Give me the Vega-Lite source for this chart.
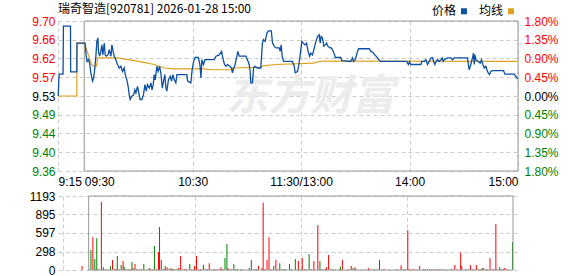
{
  "$schema": "https://vega.github.io/schema/vega-lite/v6.json",
  "background": "white",
  "padding": {"left": 29, "top": 3, "right": 0, "bottom": 0},
  "bounds": "flush",
  "spacing": 25,
  "resolve": {"scale": {"color": "independent"}, "legend": {"color": "independent"}},
  "config": {
    "view": {"stroke": null},
    "axis": {"labelFont": "Liberation Sans", "labelFontSize": 12, "domain": false, "ticks": false, "gridColor": "#cccccc", "gridDash": [4, 3], "gridWidth": 1, "title": null, "labelColor": "#000000", "labelOverlap": false}
  },
  "datasets": {
    "price": [
      {"t": -14.4, "p": 9.53}, {"t": -13.9, "p": 9.58}, {"t": -11.7, "p": 9.58}, {"t": -11.5, "p": 9.69}, {"t": -7.6, "p": 9.69}, {"t": -7.5, "p": 9.585}, {"t": -4.1, "p": 9.585}, {"t": -4.0, "p": 9.651}, {"t": 0.5, "p": 9.651},
      {"t": 1.0, "p": 9.624}, {"t": 1.6, "p": 9.609}, {"t": 2.4, "p": 9.613}, {"t": 3.0, "p": 9.605}, {"t": 3.7, "p": 9.583}, {"t": 4.6, "p": 9.564}, {"t": 5.2, "p": 9.571}, {"t": 5.9, "p": 9.594}, {"t": 6.5, "p": 9.624}, {"t": 7.0, "p": 9.655},
      {"t": 7.6, "p": 9.663}, {"t": 7.9, "p": 9.632}, {"t": 8.5, "p": 9.621}, {"t": 9.2, "p": 9.632}, {"t": 9.8, "p": 9.647}, {"t": 10.3, "p": 9.624}, {"t": 11.1, "p": 9.651}, {"t": 11.6, "p": 9.624}, {"t": 12.3, "p": 9.621}, {"t": 13.2, "p": 9.624},
      {"t": 13.8, "p": 9.636}, {"t": 14.8, "p": 9.621}, {"t": 15.3, "p": 9.647}, {"t": 16.0, "p": 9.632}, {"t": 16.6, "p": 9.621}, {"t": 17.5, "p": 9.613}, {"t": 18.4, "p": 9.602}, {"t": 19.4, "p": 9.594}, {"t": 20.3, "p": 9.598}, {"t": 21.2, "p": 9.586},
      {"t": 22.1, "p": 9.594}, {"t": 22.7, "p": 9.579}, {"t": 23.6, "p": 9.567}, {"t": 24.3, "p": 9.552}, {"t": 24.9, "p": 9.533}, {"t": 25.4, "p": 9.522}, {"t": 26.2, "p": 9.529}, {"t": 27.3, "p": 9.532}, {"t": 28.0, "p": 9.544}, {"t": 28.6, "p": 9.537},
      {"t": 29.5, "p": 9.552}, {"t": 30.4, "p": 9.533}, {"t": 30.9, "p": 9.522}, {"t": 31.9, "p": 9.522}, {"t": 32.8, "p": 9.533}, {"t": 33.6, "p": 9.556}, {"t": 34.3, "p": 9.541}, {"t": 35.0, "p": 9.556}, {"t": 36.0, "p": 9.548}, {"t": 36.9, "p": 9.56},
      {"t": 37.5, "p": 9.544}, {"t": 38.2, "p": 9.556}, {"t": 38.7, "p": 9.579}, {"t": 39.3, "p": 9.567}, {"t": 40.2, "p": 9.598}, {"t": 40.9, "p": 9.586}, {"t": 41.7, "p": 9.598}, {"t": 42.4, "p": 9.583}, {"t": 43.2, "p": 9.548}, {"t": 43.9, "p": 9.564},
      {"t": 44.6, "p": 9.579}, {"t": 45.2, "p": 9.548}, {"t": 45.7, "p": 9.541}, {"t": 46.6, "p": 9.567}, {"t": 47.6, "p": 9.575}, {"t": 48.3, "p": 9.564}, {"t": 49.1, "p": 9.579}, {"t": 49.8, "p": 9.567}, {"t": 50.7, "p": 9.56}, {"t": 51.3, "p": 9.579},
      {"t": 56.8, "p": 9.579}, {"t": 57.2, "p": 9.564}, {"t": 59.0, "p": 9.56}, {"t": 59.6, "p": 9.586}, {"t": 60.5, "p": 9.609}, {"t": 61.4, "p": 9.618}, {"t": 63.1, "p": 9.618}, {"t": 64.0, "p": 9.602}, {"t": 64.6, "p": 9.571}, {"t": 65.1, "p": 9.613},
      {"t": 66.0, "p": 9.602}, {"t": 66.8, "p": 9.613}, {"t": 71.9, "p": 9.613}, {"t": 72.9, "p": 9.621}, {"t": 74.7, "p": 9.624}, {"t": 76.0, "p": 9.632}, {"t": 76.9, "p": 9.613}, {"t": 77.6, "p": 9.602}, {"t": 78.4, "p": 9.598}, {"t": 79.3, "p": 9.602},
      {"t": 80.6, "p": 9.598}, {"t": 81.5, "p": 9.594}, {"t": 82.0, "p": 9.583}, {"t": 82.8, "p": 9.594}, {"t": 83.5, "p": 9.602}, {"t": 84.3, "p": 9.617}, {"t": 85.0, "p": 9.632}, {"t": 85.8, "p": 9.621}, {"t": 89.5, "p": 9.621}, {"t": 90.3, "p": 9.613},
      {"t": 91.3, "p": 9.602}, {"t": 91.8, "p": 9.586}, {"t": 92.2, "p": 9.56}, {"t": 93.1, "p": 9.56}, {"t": 93.7, "p": 9.594}, {"t": 94.4, "p": 9.598}, {"t": 95.9, "p": 9.594}, {"t": 97.7, "p": 9.594}, {"t": 98.6, "p": 9.651}, {"t": 99.2, "p": 9.659},
      {"t": 100.1, "p": 9.655}, {"t": 101.1, "p": 9.674}, {"t": 102.0, "p": 9.679}, {"t": 103.5, "p": 9.679}, {"t": 104.2, "p": 9.651}, {"t": 105.1, "p": 9.644}, {"t": 106.1, "p": 9.64}, {"t": 107.9, "p": 9.64}, {"t": 108.4, "p": 9.632}, {"t": 109.0, "p": 9.647},
      {"t": 109.5, "p": 9.621}, {"t": 110.3, "p": 9.609}, {"t": 115.2, "p": 9.609}, {"t": 116.2, "p": 9.598}, {"t": 116.7, "p": 9.583}, {"t": 118.0, "p": 9.586}, {"t": 118.8, "p": 9.602}, {"t": 119.5, "p": 9.624}, {"t": 120.4, "p": 9.655}, {"t": 121.2, "p": 9.651},
      {"t": 122.1, "p": 9.647}, {"t": 123.0, "p": 9.651}, {"t": 123.9, "p": 9.632}, {"t": 124.7, "p": 9.621}, {"t": 125.4, "p": 9.628}, {"t": 126.3, "p": 9.624}, {"t": 127.3, "p": 9.64}, {"t": 128.2, "p": 9.655}, {"t": 129.1, "p": 9.666}, {"t": 130.0, "p": 9.67},
      {"t": 130.6, "p": 9.651}, {"t": 131.1, "p": 9.666}, {"t": 131.8, "p": 9.663}, {"t": 132.6, "p": 9.644}, {"t": 133.3, "p": 9.647}, {"t": 134.1, "p": 9.651}, {"t": 134.8, "p": 9.644}, {"t": 135.9, "p": 9.64}, {"t": 136.8, "p": 9.64}, {"t": 137.8, "p": 9.632},
      {"t": 138.5, "p": 9.624}, {"t": 138.9, "p": 9.618}, {"t": 142.0, "p": 9.618}, {"t": 142.6, "p": 9.611}, {"t": 147.5, "p": 9.609}, {"t": 147.9, "p": 9.613}, {"t": 148.4, "p": 9.617}, {"t": 149.0, "p": 9.609}, {"t": 149.9, "p": 9.613}, {"t": 150.5, "p": 9.621},
      {"t": 151.2, "p": 9.632}, {"t": 151.8, "p": 9.638}, {"t": 157.7, "p": 9.638}, {"t": 158.6, "p": 9.632}, {"t": 159.7, "p": 9.63}, {"t": 160.8, "p": 9.624}, {"t": 161.5, "p": 9.621}, {"t": 162.3, "p": 9.617}, {"t": 163.0, "p": 9.613}, {"t": 164.1, "p": 9.609},
      {"t": 178.5, "p": 9.609}, {"t": 178.9, "p": 9.605}, {"t": 179.4, "p": 9.602}, {"t": 180.0, "p": 9.609}, {"t": 180.7, "p": 9.602}, {"t": 186.3, "p": 9.602}, {"t": 186.8, "p": 9.609}, {"t": 188.1, "p": 9.609}, {"t": 189.0, "p": 9.613}, {"t": 189.9, "p": 9.602},
      {"t": 190.9, "p": 9.609}, {"t": 191.8, "p": 9.617}, {"t": 192.7, "p": 9.618}, {"t": 193.3, "p": 9.609}, {"t": 194.0, "p": 9.602}, {"t": 194.7, "p": 9.609}, {"t": 195.5, "p": 9.613}, {"t": 196.4, "p": 9.609}, {"t": 197.3, "p": 9.613}, {"t": 198.1, "p": 9.617},
      {"t": 198.6, "p": 9.609}, {"t": 199.2, "p": 9.613}, {"t": 201.0, "p": 9.617}, {"t": 202.9, "p": 9.617}, {"t": 203.8, "p": 9.613}, {"t": 204.7, "p": 9.617}, {"t": 212.1, "p": 9.617}, {"t": 212.5, "p": 9.602}, {"t": 213.0, "p": 9.59}, {"t": 213.9, "p": 9.602},
      {"t": 214.8, "p": 9.617}, {"t": 215.4, "p": 9.628}, {"t": 215.8, "p": 9.602}, {"t": 216.2, "p": 9.624}, {"t": 216.7, "p": 9.613}, {"t": 218.0, "p": 9.609}, {"t": 219.1, "p": 9.605}, {"t": 219.8, "p": 9.613}, {"t": 220.6, "p": 9.602}, {"t": 221.3, "p": 9.594},
      {"t": 222.2, "p": 9.598}, {"t": 222.8, "p": 9.59}, {"t": 223.5, "p": 9.583}, {"t": 224.2, "p": 9.579}, {"t": 225.0, "p": 9.586}, {"t": 225.9, "p": 9.588}, {"t": 232.0, "p": 9.588}, {"t": 232.8, "p": 9.58}, {"t": 237.9, "p": 9.58}, {"t": 238.8, "p": 9.575},
      {"t": 239.7, "p": 9.569}
    ],
    "avg": [
      {"t": -14.4, "a": 9.53}, {"t": -4.1, "a": 9.53}, {"t": -4.0, "a": 9.651}, {"t": 0.3, "a": 9.651}, {"t": 0.9, "a": 9.641}, {"t": 4.0, "a": 9.602}, {"t": 5.2, "a": 9.598}, {"t": 6.8, "a": 9.598}, {"t": 7.4, "a": 9.617},
      {"t": 18.4, "a": 9.617}, {"t": 22.0, "a": 9.615}, {"t": 27.7, "a": 9.611}, {"t": 33.0, "a": 9.607}, {"t": 38.7, "a": 9.602}, {"t": 44.3, "a": 9.594}, {"t": 50.0, "a": 9.592}, {"t": 66.4, "a": 9.592}, {"t": 70.0, "a": 9.59},
      {"t": 82.0, "a": 9.59}, {"t": 82.1, "a": 9.594}, {"t": 97.7, "a": 9.596}, {"t": 99.0, "a": 9.599}, {"t": 106.0, "a": 9.602}, {"t": 127.0, "a": 9.605}, {"t": 129.0, "a": 9.608}, {"t": 133.0, "a": 9.61}, {"t": 239.7, "a": 9.609}
    ],
    "vol": [
      {"t": -3.7, "v": 64, "d": "up"}, {"t": 1.3, "v": 322, "d": "dn"}, {"t": 2.4, "v": 527, "d": "up"}, {"t": 3.5, "v": 177, "d": "dn"}, {"t": 4.6, "v": 511, "d": "dn"}, {"t": 5.2, "v": 11, "d": "up"}, {"t": 5.9, "v": 11, "d": "dn"},
      {"t": 7.2, "v": 1096, "d": "up"}, {"t": 8.3, "v": 43, "d": "dn"}, {"t": 9.4, "v": 11, "d": "up"}, {"t": 10.5, "v": 11, "d": "up"}, {"t": 12.4, "v": 64, "d": "dn"}, {"t": 13.5, "v": 161, "d": "up"}, {"t": 14.8, "v": 11, "d": "up"},
      {"t": 15.3, "v": 11, "d": "up"}, {"t": 16.2, "v": 226, "d": "dn"}, {"t": 17.3, "v": 11, "d": "up"}, {"t": 18.4, "v": 81, "d": "dn"}, {"t": 19.5, "v": 150, "d": "up"}, {"t": 20.1, "v": 54, "d": "dn"}, {"t": 21.2, "v": 11, "d": "up"},
      {"t": 22.3, "v": 11, "d": "dn"}, {"t": 23.4, "v": 11, "d": "up"}, {"t": 24.5, "v": 129, "d": "dn"}, {"t": 25.1, "v": 32, "d": "dn"}, {"t": 26.2, "v": 97, "d": "up"}, {"t": 27.3, "v": 11, "d": "up"}, {"t": 29.0, "v": 11, "d": "up"},
      {"t": 29.9, "v": 11, "d": "up"}, {"t": 31.2, "v": 97, "d": "dn"}, {"t": 33.2, "v": 11, "d": "up"}, {"t": 34.3, "v": 32, "d": "up"}, {"t": 34.9, "v": 11, "d": "up"}, {"t": 36.0, "v": 11, "d": "up"}, {"t": 37.2, "v": 387, "d": "dn"},
      {"t": 38.4, "v": 11, "d": "up"}, {"t": 39.5, "v": 290, "d": "up"}, {"t": 40.1, "v": 693, "d": "dn"}, {"t": 41.1, "v": 161, "d": "up"}, {"t": 42.2, "v": 21, "d": "dn"}, {"t": 43.3, "v": 64, "d": "dn"}, {"t": 44.4, "v": 43, "d": "up"},
      {"t": 45.6, "v": 21, "d": "up"}, {"t": 46.7, "v": 32, "d": "up"}, {"t": 47.6, "v": 11, "d": "up"}, {"t": 48.7, "v": 11, "d": "dn"}, {"t": 49.8, "v": 11, "d": "dn"}, {"t": 50.9, "v": 32, "d": "up"}, {"t": 52.0, "v": 226, "d": "up"},
      {"t": 53.1, "v": 11, "d": "up"}, {"t": 54.2, "v": 11, "d": "up"}, {"t": 55.3, "v": 11, "d": "up"}, {"t": 57.2, "v": 97, "d": "dn"}, {"t": 58.3, "v": 11, "d": "up"}, {"t": 59.9, "v": 64, "d": "up"}, {"t": 61.0, "v": 226, "d": "up"},
      {"t": 62.1, "v": 11, "d": "up"}, {"t": 63.3, "v": 11, "d": "up"}, {"t": 64.9, "v": 81, "d": "dn"}, {"t": 66.0, "v": 11, "d": "up"}, {"t": 67.1, "v": 11, "d": "dn"}, {"t": 68.2, "v": 107, "d": "up"}, {"t": 69.3, "v": 11, "d": "up"},
      {"t": 71.0, "v": 11, "d": "up"}, {"t": 72.1, "v": 11, "d": "up"}, {"t": 73.2, "v": 11, "d": "up"}, {"t": 74.3, "v": 11, "d": "up"}, {"t": 74.9, "v": 43, "d": "up"}, {"t": 76.0, "v": 11, "d": "up"}, {"t": 77.1, "v": 193, "d": "dn"},
      {"t": 78.2, "v": 419, "d": "dn"}, {"t": 78.8, "v": 32, "d": "up"}, {"t": 79.9, "v": 11, "d": "up"}, {"t": 81.0, "v": 11, "d": "up"}, {"t": 82.1, "v": 97, "d": "dn"}, {"t": 83.2, "v": 11, "d": "dn"}, {"t": 84.3, "v": 11, "d": "up"},
      {"t": 85.9, "v": 11, "d": "dn"}, {"t": 90.9, "v": 32, "d": "dn"}, {"t": 92.0, "v": 161, "d": "dn"}, {"t": 93.1, "v": 11, "d": "up"}, {"t": 94.2, "v": 11, "d": "up"}, {"t": 95.0, "v": 11, "d": "dn"}, {"t": 96.1, "v": 64, "d": "up"},
      {"t": 98.1, "v": 32, "d": "up"}, {"t": 98.7, "v": 1085, "d": "up"}, {"t": 99.8, "v": 11, "d": "up"}, {"t": 100.9, "v": 161, "d": "up"}, {"t": 102.0, "v": 527, "d": "up"}, {"t": 103.6, "v": 11, "d": "up"}, {"t": 104.7, "v": 64, "d": "dn"},
      {"t": 105.9, "v": 161, "d": "up"}, {"t": 107.0, "v": 11, "d": "up"}, {"t": 108.1, "v": 107, "d": "dn"}, {"t": 109.2, "v": 11, "d": "up"}, {"t": 110.3, "v": 11, "d": "dn"}, {"t": 111.4, "v": 11, "d": "dn"}, {"t": 113.6, "v": 97, "d": "up"},
      {"t": 114.7, "v": 11, "d": "up"}, {"t": 116.9, "v": 177, "d": "dn"}, {"t": 118.6, "v": 145, "d": "up"}, {"t": 119.7, "v": 11, "d": "dn"}, {"t": 120.8, "v": 193, "d": "up"}, {"t": 121.9, "v": 11, "d": "up"}, {"t": 123.0, "v": 11, "d": "dn"},
      {"t": 124.7, "v": 258, "d": "dn"}, {"t": 125.8, "v": 11, "d": "up"}, {"t": 127.4, "v": 145, "d": "up"}, {"t": 128.0, "v": 11, "d": "up"}, {"t": 129.6, "v": 725, "d": "up"}, {"t": 130.8, "v": 145, "d": "dn"}, {"t": 131.9, "v": 11, "d": "up"},
      {"t": 133.0, "v": 11, "d": "dn"}, {"t": 134.1, "v": 21, "d": "dn"}, {"t": 134.6, "v": 43, "d": "up"}, {"t": 135.7, "v": 242, "d": "up"}, {"t": 136.8, "v": 11, "d": "up"}, {"t": 137.9, "v": 11, "d": "dn"}, {"t": 139.6, "v": 11, "d": "up"},
      {"t": 141.8, "v": 11, "d": "up"}, {"t": 142.4, "v": 54, "d": "dn"}, {"t": 143.5, "v": 161, "d": "up"}, {"t": 147.3, "v": 11, "d": "up"}, {"t": 148.5, "v": 64, "d": "up"}, {"t": 149.6, "v": 32, "d": "dn"}, {"t": 150.7, "v": 43, "d": "up"},
      {"t": 151.8, "v": 11, "d": "up"}, {"t": 156.8, "v": 11, "d": "up"}, {"t": 158.4, "v": 32, "d": "up"}, {"t": 160.1, "v": 11, "d": "dn"}, {"t": 161.7, "v": 11, "d": "dn"}, {"t": 163.4, "v": 11, "d": "dn"}, {"t": 164.5, "v": 161, "d": "dn"},
      {"t": 166.7, "v": 11, "d": "up"}, {"t": 167.3, "v": 11, "d": "up"}, {"t": 174.5, "v": 11, "d": "up"}, {"t": 176.7, "v": 75, "d": "up"}, {"t": 178.3, "v": 11, "d": "up"}, {"t": 179.4, "v": 11, "d": "up"}, {"t": 180.5, "v": 645, "d": "up"},
      {"t": 181.1, "v": 11, "d": "up"}, {"t": 183.3, "v": 11, "d": "up"}, {"t": 184.4, "v": 11, "d": "up"}, {"t": 187.2, "v": 64, "d": "up"}, {"t": 189.4, "v": 11, "d": "up"}, {"t": 190.5, "v": 11, "d": "dn"}, {"t": 191.6, "v": 11, "d": "dn"},
      {"t": 192.7, "v": 11, "d": "dn"}, {"t": 193.8, "v": 11, "d": "dn"}, {"t": 194.9, "v": 11, "d": "up"}, {"t": 196.0, "v": 11, "d": "up"}, {"t": 197.1, "v": 11, "d": "up"}, {"t": 198.2, "v": 11, "d": "up"}, {"t": 199.4, "v": 11, "d": "dn"},
      {"t": 201.0, "v": 11, "d": "up"}, {"t": 204.3, "v": 11, "d": "dn"}, {"t": 205.4, "v": 11, "d": "up"}, {"t": 207.1, "v": 81, "d": "up"}, {"t": 208.2, "v": 11, "d": "up"}, {"t": 210.4, "v": 279, "d": "up"}, {"t": 211.0, "v": 64, "d": "up"},
      {"t": 213.2, "v": 11, "d": "dn"}, {"t": 215.4, "v": 11, "d": "up"}, {"t": 215.9, "v": 81, "d": "up"}, {"t": 217.0, "v": 11, "d": "up"}, {"t": 219.3, "v": 81, "d": "up"}, {"t": 220.4, "v": 11, "d": "up"}, {"t": 221.5, "v": 11, "d": "dn"},
      {"t": 222.6, "v": 32, "d": "dn"}, {"t": 223.1, "v": 32, "d": "up"}, {"t": 224.2, "v": 11, "d": "dn"}, {"t": 225.4, "v": 11, "d": "up"}, {"t": 227.0, "v": 193, "d": "up"}, {"t": 228.1, "v": 11, "d": "up"}, {"t": 229.2, "v": 11, "d": "up"},
      {"t": 230.3, "v": 741, "d": "up"}, {"t": 231.4, "v": 11, "d": "up"}, {"t": 232.5, "v": 43, "d": "dn"}, {"t": 233.6, "v": 11, "d": "up"}, {"t": 234.7, "v": 21, "d": "up"}, {"t": 235.3, "v": 32, "d": "up"}, {"t": 236.4, "v": 11, "d": "up"},
      {"t": 239.7, "v": 451, "d": "dn"}
    ]
  },
  "vconcat": [
    {
      "width": 460,
      "height": 150,
      "title": {"text": "瑞奇智造[920781] 2026-01-28 15:00", "anchor": "start", "frame": "group", "font": "Noto Sans CJK SC", "fontSize": 12, "fontWeight": "normal", "color": "#000000", "offset": -11},
      "resolve": {"scale": {"y": "independent"}, "axis": {"y": "independent"}},
      "layer": [
        {
          "data": {"values": [{"label": "东方财富"}]},
          "mark": {"type": "text", "font": "Noto Sans CJK SC", "fontSize": 42, "fontWeight": "bold", "fontStyle": "italic", "color": "#ececec"},
          "encoding": {
            "x": {"datum": 125, "type": "quantitative", "scale": {"domain": [-14.5, 240], "nice": false, "zero": false}},
            "y": {"datum": 9.527, "type": "quantitative", "scale": {"domain": [9.3585, 9.7015], "nice": false, "zero": false}, "axis": null},
            "text": {"field": "label"}
          }
        },
        {
          "data": {"values": [{}]},
          "mark": {"type": "rect", "filled": false, "color": "#999999", "strokeWidth": 1},
          "encoding": {
            "x": {"datum": 0, "type": "quantitative", "scale": {"domain": [-14.5, 240], "nice": false, "zero": false}},
            "x2": {"datum": 240},
            "y": {"datum": 9.7015, "type": "quantitative", "scale": {"domain": [9.3585, 9.7015], "nice": false, "zero": false}, "axis": null},
            "y2": {"datum": 9.3585}
          }
        },
        {
          "data": {"name": "avg"},
          "mark": {"type": "line", "strokeWidth": 1.2},
          "encoding": {
            "x": {"field": "t", "type": "quantitative", "scale": {"domain": [-14.5, 240], "nice": false, "zero": false}},
            "y": {"field": "a", "type": "quantitative", "scale": {"domain": [9.3585, 9.7015], "nice": false, "zero": false},
              "axis": {"orient": "right", "values": [9.3585, 9.40138, 9.44425, 9.48713, 9.53, 9.57288, 9.61575, 9.65863, 9.7015], "grid": false, "labelPadding": 6,
                "labelExpr": "format(abs(datum.value - 9.53) / 9.53 * 100, '.2f') + '%'",
                "labelColor": {"expr": "datum.value > 9.535 ? '#ff0000' : (datum.value < 9.525 ? '#008000' : '#000000')"}}},
            "color": {"datum": "均线", "type": "nominal", "scale": {"domain": ["价格", "均线"], "range": ["#0d4fa3", "#dea01e"]},
              "legend": {"orient": "none", "legendX": 400, "legendY": -16, "direction": "horizontal", "title": null, "symbolType": "square", "symbolSize": 9, "symbolStrokeWidth": 3, "labelFont": "Noto Sans CJK SC", "labelFontSize": 12, "labelColor": "#000000", "labelAlign": "right", "labelOffset": -14, "columnPadding": 6}}
          }
        },
        {
          "data": {"name": "price"},
          "mark": {"type": "line", "strokeWidth": 1.3},
          "encoding": {
            "x": {"field": "t", "type": "quantitative", "scale": {"domain": [-14.5, 240], "nice": false, "zero": false},
              "axis": {"values": [-14.5, 0, 60, 120, 180, 240], "grid": true, "labelPadding": 5, "labelFlush": false, "labelBound": false,
                "labelExpr": "datum.value < -1 ? '9:15' : datum.value == 0 ? '09:30' : datum.value == 60 ? '10:30' : datum.value == 120 ? '11:30/13:00' : datum.value == 180 ? '14:00' : '15:00'",
                "labelAlign": {"expr": "datum.value <= 0 ? 'left' : (datum.value >= 240 ? 'right' : 'center')"}}},
            "y": {"field": "p", "type": "quantitative", "scale": {"domain": [9.3585, 9.7015], "nice": false, "zero": false},
              "axis": {"orient": "left", "values": [9.3585, 9.40138, 9.44425, 9.48713, 9.53, 9.57288, 9.61575, 9.65863, 9.7015], "format": ".2f", "grid": true, "labelPadding": 3,
                "labelColor": {"expr": "datum.value > 9.535 ? '#ff0000' : (datum.value < 9.525 ? '#008000' : '#000000')"}}},
            "color": {"datum": "价格", "type": "nominal", "scale": {"domain": ["价格", "均线"], "range": ["#0d4fa3", "#dea01e"]}}
          }
        }
      ]
    },
    {
      "width": 460,
      "height": 74,
      "encoding": {
        "x": {"field": "t", "type": "quantitative", "scale": {"domain": [-14.5, 240], "nice": false, "zero": false},
          "axis": {"values": [-14.5, 60, 120, 180], "labels": false, "grid": true}},
        "y": {"field": "v", "type": "quantitative", "scale": {"domain": [0, 1193], "nice": false},
          "axis": {"values": [0, 298, 597, 895, 1193], "grid": true, "labelPadding": 3, "format": "d", "labelOverlap": false}}
      },
      "layer": [
        {
          "data": {"name": "vol"},
          "mark": {"type": "bar", "size": 1},
          "encoding": {
            "color": {"field": "d", "type": "nominal", "scale": {"domain": ["up", "dn"], "range": ["#ff0000", "#008000"]}, "legend": null}
          }
        },
        {
          "data": {"values": [{"t0": 0, "t1": 240, "v0": 0, "v1": 1193}]},
          "mark": {"type": "rect", "filled": false, "color": "#999999", "strokeWidth": 1},
          "encoding": {
            "x": {"field": "t0", "type": "quantitative"},
            "x2": {"field": "t1"},
            "y": {"field": "v1", "type": "quantitative"},
            "y2": {"field": "v0"}
          }
        }
      ]
    }
  ]
}
